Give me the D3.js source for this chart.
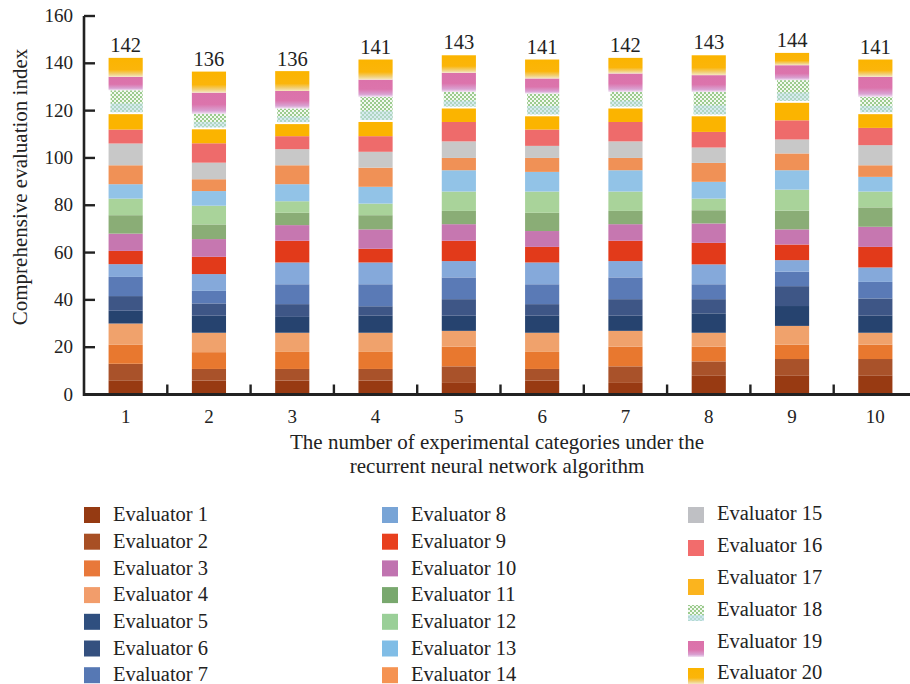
<!DOCTYPE html>
<html><head><meta charset="utf-8">
<script src="https://cdn.jsdelivr.net/npm/d3@7"></script>
<style>
html,body{margin:0;padding:0;background:#fff;}
svg{display:block;font-family:"Liberation Serif","Times New Roman",serif;}
</style></head>
<body><svg id="chart" width="910" height="684"></svg>
<script>
const categories = ["1","2","3","4","5","6","7","8","9","10"];
const totals = [142,136,136,141,143,141,142,143,144,141];
const yTicks = [0,20,40,60,80,100,120,140,160];
const evaluators = Array.from({length:20},(_,i)=>"Evaluator "+(i+1));
const ev1  = [6,5.9,5.9,5.9,4.9,5.9,4.9,7.9,7.9,7.9];
const ev2  = [7,4.9,4.9,4.9,7,4.9,7,6.1,7.1,7.1];
const ev3  = [8,7.1,7.2,7.2,8.3,7.2,8.3,6.2,6.1,6.1];
const ev4  = [9,8.2,8.1,8.1,6.7,8.1,6.7,5.9,7.9,5];
const ev5  = [5.4,7.2,6.7,7.2,6.4,7.2,6.4,8.2,8.4,7.2];
const ev6  = [6.2,5.2,5.4,4,7,4.9,7,6,8.4,7.3];
const ev7  = [8.1,5.3,8.4,9.3,9.2,8.4,9.2,6.3,6.1,7];
const ev8  = [5.4,7.1,9.2,9.2,6.9,9.2,6.9,8.4,4.9,6.1];
const ev9  = [5.6,7.3,9.2,5.8,8.6,6.6,8.6,9.1,6.6,8.7];
const ev10 = [7.3,7.5,6.6,8.2,7,6.7,7,8.2,6.4,8.5];
const ev11 = [7.8,6.2,5.2,6,5.6,7.7,5.6,5.6,7.9,8.2];
const ev12 = [7,7.9,4.9,4.9,8.2,9,8.2,4.9,8.9,6.7];
const ev13 = [6.1,6.2,7.2,7.1,9,8.3,9,7.1,8.2,6.2];
const ev14 = [8,5,8,8.1,5.2,5.9,5.2,8,7.1,4.9];
const ev15 = [9.2,7,6.8,6.7,7,5.1,7,6.5,5.9,8.5];
const ev16 = [5.9,8.2,5.5,6.6,8.2,6.9,8.2,6.6,8.1,7.3];
const ev17 = [6.5,5.9,5.1,6,5.7,5.6,5.7,6.6,7.4,5.8];
const ev18 = [10.1,6.5,6.6,10.6,7,9.6,7,10.3,9.6,7.3];
const ev19 = [5.7,9,7.4,7.3,8.1,6.4,7.8,7.1,6.3,8.5];
const ev20 = [8,8.9,8.4,8.5,7.4,8,6.6,8.4,5.2,7.3];
const series = [ev1,ev2,ev3,ev4,ev5,ev6,ev7,ev8,ev9,ev10,ev11,ev12,ev13,ev14,ev15,ev16,ev17,ev18,ev19,ev20];
const colors = ["#983A12","#A9522A","#E8782F","#F0A26C","#26436F","#3E5686","#5A7AB6","#85A9DA",
  "#E23A1A","#C677B0","#8AAD76","#A9D39A","#92C3E7","#F09156","#C8C8C8","#EE6B6B",
  "#FBB400","url(#pat18)","url(#grad19)","url(#grad20)"];
const legendColors = ["#953A12","#A84F24","#E8783A","#F29D6B","#2F4F7F","#34507F","#5678B4","#78A4D6",
  "#E8401E","#C073B0","#79A86E","#9ACF98","#80BDE6","#F59352","#BFC0C4","#F26C6C",
  "#FBB41E","url(#pat18)","url(#grad19)","url(#grad20)"];

const table = categories.map((c,i)=>{const o={cat:c}; evaluators.forEach((k,j)=>o[k]=series[j][i]); return o;});

const svg = d3.select("#chart");
const defs = svg.append("defs");
const g19 = defs.append("linearGradient").attr("id","grad19").attr("x1",0).attr("y1",0).attr("x2",0).attr("y2",1);
g19.append("stop").attr("offset","0%").attr("stop-color","#DB72AA");
g19.append("stop").attr("offset","55%").attr("stop-color","#DC74AC");
g19.append("stop").attr("offset","85%").attr("stop-color","#D9A2D2");
g19.append("stop").attr("offset","100%").attr("stop-color","#F1E3F3");
const g20 = defs.append("linearGradient").attr("id","grad20").attr("x1",0).attr("y1",0).attr("x2",0).attr("y2",1);
g20.append("stop").attr("offset","0%").attr("stop-color","#FBB400");
g20.append("stop").attr("offset","62%").attr("stop-color","#FBB50A");
g20.append("stop").attr("offset","85%").attr("stop-color","#F1CF78");
g20.append("stop").attr("offset","100%").attr("stop-color","#F5E7C0");
const pat = defs.append("pattern").attr("id","pat18").attr("width",4).attr("height",4).attr("patternUnits","userSpaceOnUse");
pat.append("rect").attr("width",4).attr("height",4).attr("fill","#F3F9F1");
pat.append("rect").attr("width",2).attr("height",2).attr("fill","#9CCB8E");
pat.append("rect").attr("x",2).attr("y",2).attr("width",2).attr("height",2).attr("fill","#9CCB8E");

const x = d3.scaleBand().domain(categories).range([84,917]).paddingInner(0.59).paddingOuter(0.295);
const y = d3.scaleLinear().domain([0,160]).range([394.5,16]);

const stack = d3.stack().keys(evaluators)(table);

const layers = svg.append("g").selectAll("g").data(stack).join("g");
layers.each(function(layer,li){
  const gL = d3.select(this);
  layer.forEach((d,i)=>{
    const x0 = x(categories[i]), w = x.bandwidth();
    const yt = y(d[1]), yb = y(d[0]);
    if(li===17){
      const h = Math.max(0,yb-yt-2);
      gL.append("rect").attr("x",x0+2).attr("y",yt).attr("width",w-2).attr("height",h).attr("fill","url(#pat18)");
      gL.append("rect").attr("x",x0+2).attr("y",yt+h*0.6).attr("width",w-2).attr("height",h*0.4)
        .attr("fill","#BFE0EC").attr("opacity",0.55);
    } else {
      gL.append("rect").attr("x",x0).attr("y",yt).attr("width",w).attr("height",yb-yt)
        .attr("fill",colors[li]);
    }
  });
});

// total labels
svg.append("g").selectAll("text").data(categories).join("text")
  .attr("x",d=>x(d)+x.bandwidth()/2)
  .attr("y",(d,i)=>y(totals[i])-7)
  .attr("text-anchor","middle").attr("font-size",20.5).attr("fill","#222")
  .text((d,i)=>totals[i]);

// axes
const axG = svg.append("g").attr("stroke","#222");
axG.append("line").attr("x1",84).attr("x2",917).attr("y1",y(0)).attr("y2",y(0)).attr("stroke-width",3);
axG.append("line").attr("x1",84).attr("x2",84).attr("y1",y(160)).attr("y2",y(0)+1.5).attr("stroke-width",2.6);
axG.selectAll(".yt").data(yTicks.slice(1)).join("line")
  .attr("x1",84).attr("x2",95).attr("y1",d=>y(d)).attr("y2",d=>y(d)).attr("stroke-width",2.4);
const step = x.step();
axG.selectAll(".xt").data(categories).join("line")
  .attr("x1",d=>x(d)+x.bandwidth()/2+step/2).attr("x2",d=>x(d)+x.bandwidth()/2+step/2)
  .attr("y1",y(0)).attr("y2",y(0)-10).attr("stroke-width",2.4);

svg.append("g").selectAll("text").data(yTicks).join("text")
  .attr("x",73).attr("y",d=>y(d)+6).attr("text-anchor","end").attr("font-size",19).attr("fill","#222")
  .text(d=>d);
svg.append("g").selectAll("text").data(categories).join("text")
  .attr("x",d=>x(d)+x.bandwidth()/2).attr("y",423).attr("text-anchor","middle").attr("font-size",19).attr("fill","#222")
  .text(d=>d);

svg.append("text").attr("transform","translate(27,187) rotate(-90)").attr("text-anchor","middle")
  .attr("font-size",21).attr("fill","#222").text("Comprehensive evaluation index");
svg.append("text").attr("x",497).attr("y",449).attr("text-anchor","middle").attr("font-size",21).attr("fill","#222")
  .text("The number of experimental categories under the");
svg.append("text").attr("x",497).attr("y",473).attr("text-anchor","middle").attr("font-size",21).attr("fill","#222")
  .text("recurrent neural network algorithm");

// legend
const legPos = evaluators.map((e,i)=>{
  if(i<7) return {sx:84, tx:113, ty:514.7+i*26.7, sy:507+i*26.7};
  if(i<14){const k=i-7; return {sx:382, tx:411, ty:514.7+k*26.7, sy:507+k*26.7};}
  const k=i-14;
  const ty=[513,545,577.3,609.3,641.7,672.7][k];
  const sy=[507,540,579,605,641,668][k];
  return {sx:688, tx:717, ty:ty, sy:sy};
});
const leg = svg.append("g");
evaluators.forEach((e,i)=>{
  const p = legPos[i];
  if(i===17){
    leg.append("rect").attr("x",p.sx).attr("y",p.sy).attr("width",16).attr("height",16).attr("fill","url(#pat18)");
    leg.append("rect").attr("x",p.sx).attr("y",p.sy+10).attr("width",16).attr("height",6).attr("fill","#BFE0EC").attr("opacity",0.7);
  } else {
    leg.append("rect").attr("x",p.sx).attr("y",p.sy).attr("width",16).attr("height",16).attr("fill",legendColors[i]);
  }
  leg.append("text").attr("x",p.tx).attr("y",p.ty+6.5).attr("font-size",20.5).attr("fill","#222").text(e);
});
</script>
</body></html>
